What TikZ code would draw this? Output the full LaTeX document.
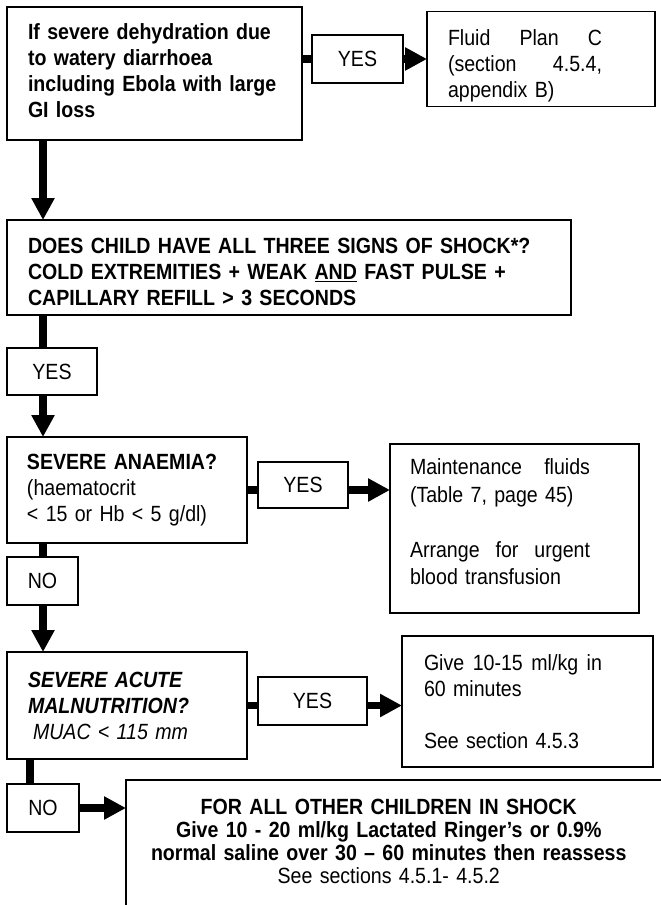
\documentclass[tikz,border=0pt]{standalone}
\usepackage{fontspec}
\setmainfont{Liberation Sans}[FakeStretch=0.89]
\usetikzlibrary{positioning,arrows.meta,calc}
\newcommand{\chartfont}{\fontsize{22}{26}\selectfont}

\begin{document}
\begin{tikzpicture}[
    x=1pt, y=-1pt,
    font=\chartfont,
    box/.style={draw, line width=1.6pt, outer sep=0pt, inner xsep=21pt,
                inner ysep=0pt, align=left},
    answer/.style={draw, line width=1.6pt, outer sep=0pt, inner sep=0pt,
                   minimum width=91pt, minimum height=48pt},
    link/.style={line width=7.5pt},
    flow/.style={link, -{Triangle[length=22pt, width=22pt]}},
  ]
  \clip (0,0) rectangle (661,905);

  % dehydration question
  \node[box, font=\chartfont\bfseries, text width=253pt, minimum height=133pt,
        anchor=north west] (dehyd) at (7,7)
    {\parbox[c][100pt][t]{253pt}{If severe dehydration due\\to watery diarrhoea\\
     including Ebola with large\\GI loss}};
  \node[answer, below right=28pt and 10pt of dehyd.north east] (yes1) {YES};
  \node[box, text width=186pt, minimum height=95pt, right=24pt of yes1] (planC)
    {\parbox[c][82pt][b]{154pt}{Fluid\hfill Plan\hfill C\\(section\hfill 4.5.4,\\appendix B)}};

  % signs of shock
  \node[box, font=\chartfont\bfseries, text width=522pt, minimum height=95pt,
        below right=80pt and 0pt of dehyd.south west] (shock)
    {\parbox[c][77pt][b]{522pt}{DOES CHILD HAVE ALL THREE SIGNS OF SHOCK*?\\
     COLD EXTREMITIES + WEAK \underline{AND} FAST PULSE +\\
     CAPILLARY REFILL > 3 SECONDS}};
  \node[answer, minimum width=90pt, minimum height=47pt,
        below right=33pt and 0pt of shock.south west] (yes2) {YES};

  % anaemia
  \node[box, inner xsep=20pt, text width=200pt, minimum height=106pt,
        below right=42pt and 0pt of yes2.south west] (anaemia)
    {\textbf{SEVERE ANAEMIA?}\\(haematocrit\\< 15 or Hb < 5 g/dl)};
  \node[answer, minimum width=90pt, minimum height=46pt,
        below right=25pt and 11pt of anaemia.north east] (yes3) {YES};
  \node[box, inner xsep=20pt, text width=209pt, minimum height=169pt,
        below right=7pt and 143pt of anaemia.north east] (maint)
    {\parbox[c][139pt][t]{180pt}{\fontsize{22}{27.5}\selectfont
     Maintenance\hfill fluids\\(Table 7, page 45)\\[\baselineskip]
     Arrange\hfill for\hfill urgent\\blood transfusion}};
  \node[answer, minimum width=71pt,
        below right=14pt and 0pt of anaemia.south west] (no1) {NO};

  % malnutrition
  \node[box, text width=198pt, minimum height=107pt,
        below right=47pt and 0pt of no1.south west] (sam)
    {\textbf{\textit{SEVERE ACUTE}}\\\textbf{\textit{MALNUTRITION?}}\\
     \hspace*{5pt}\textit{MUAC < 115 mm}};
  \node[answer, minimum width=109pt,
        below right=25pt and 11pt of sam.north east] (yes5) {YES};
  \node[box, inner xsep=22pt, text width=207pt, minimum height=131pt,
        below right=23pt and 12pt of maint.south west] (slow)
    {\parbox{178pt}{Give\hfill 10-15\hfill ml/kg\hfill in\\60 minutes\\[\baselineskip]
     See section 4.5.3}};
  \node[answer, minimum width=72pt,
        below right=25pt and 0pt of sam.south west] (no2) {NO};

  % everyone else
  \node[box, inner xsep=25pt, inner ysep=17.7pt, text width=560pt, anchor=north west]
    (others) at ($(no2.north east)+(47,-4)$)
    {\fontsize{22}{23.3}\selectfont\begin{tabular}{@{}c@{}}
     \textbf{FOR ALL OTHER CHILDREN IN SHOCK}\\
     \textbf{Give 10 - 20 ml/kg Lactated Ringer’s or 0.9\%}\\
     \textbf{normal saline over 30 – 60 minutes then reassess}\\
     See sections 4.5.1- 4.5.2
     \end{tabular}};

  \draw[link] (dehyd.east |- yes1.west) -- (yes1.west);
  \draw[flow] (yes1.east) -- (yes1.east -| planC.west);
  \draw[flow] ([xshift=36pt]dehyd.south west) -- ([xshift=36pt]shock.north west);
  \draw[link] ([xshift=36pt]shock.south west) -- ([xshift=36pt]yes2.north west);
  \draw[flow] ([xshift=36pt]yes2.south west) -- ([xshift=36pt]anaemia.north west);
  \draw[link] (anaemia.east) -- (anaemia.east -| yes3.west);
  \draw[flow] (anaemia.east -| yes3.east) -- (anaemia.east -| maint.west);
  \draw[link] ([xshift=36pt]anaemia.south west) -- ([xshift=36pt]no1.north west);
  \draw[flow] ([xshift=36pt]no1.south west) -- ([xshift=36pt]sam.north west);
  \draw[link] (sam.east) -- (sam.east -| yes5.west);
  \draw[flow] (sam.east -| yes5.east) -- (sam.east -| slow.west);
  \draw[link] ([xshift=23pt]sam.south west) -- ([xshift=23pt]no2.north west);
  \draw[flow] (no2.east) -- (no2.east -| others.west);
\end{tikzpicture}
\end{document}
